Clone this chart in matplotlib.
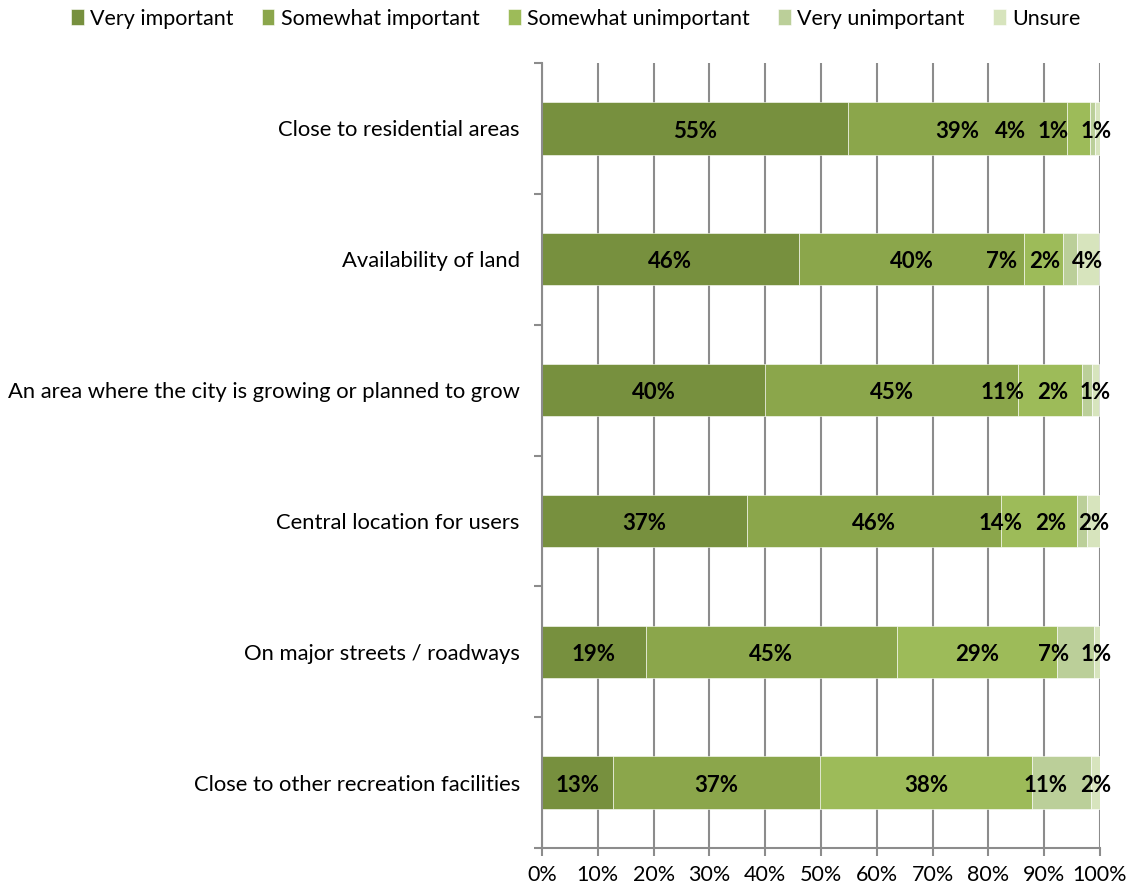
import numpy as np
import matplotlib.pyplot as plt
from matplotlib.ticker import FixedLocator

plt.rcParams['font.family'] = ['Lato', 'DejaVu Sans']

categories = ["Close to residential areas",
              "Availability of land",
              "An area where the city is growing or planned to grow",
              "Central location for users",
              "On major streets / roadways",
              "Close to other recreation facilities"]
series_names = ["Very important", "Somewhat important", "Somewhat unimportant",
                "Very unimportant", "Unsure"]
# shares in percent
very_important = [54.8, 46.0, 40.0, 36.7, 18.6, 12.7]
somewhat_important = [39.2, 40.4, 45.3, 45.6, 45.0, 37.1]
somewhat_unimportant = [4.2, 6.9, 11.4, 13.6, 28.7, 38.0]
very_unimportant = [0.9, 2.5, 1.8, 1.8, 6.6, 10.6]
unsure = [0.9, 4.0, 1.4, 2.3, 1.1, 1.6]
colors = ["#77903e", "#8ba64b", "#9dbb59", "#bbcf99", "#d7e4bd"]

values = np.array([very_important, somewhat_important, somewhat_unimportant,
                   very_unimportant, unsure])

fig = plt.figure(figsize=(11.33, 8.93), dpi=100)
ax = fig.add_axes([0.4784, 0.0504, 0.4925, 0.879])

y = np.arange(len(categories))
left = np.zeros(len(categories))
for name, vals, c in zip(series_names, values, colors):
    ax.barh(y, vals, left=left, height=0.4, color=c, label=name, zorder=2,
            edgecolor="white", linewidth=0.4)
    left += vals

# data labels: centered, small ones pushed left so they don't overlap
def label_width(txt):
    return 2.7 * len(txt)

for i in range(len(categories)):
    starts = np.concatenate([[0], np.cumsum(values[:, i])[:-1]])
    centers = starts + values[:, i] / 2
    texts = ["%d%%" % round(v) for v in values[:, i]]
    xs = centers.copy()
    xs[-1] = min(centers[-1], 99.3)
    for j in range(len(xs) - 2, -1, -1):
        gap = (label_width(texts[j]) + label_width(texts[j + 1])) / 2 + 2.3
        xs[j] = min(centers[j], xs[j + 1] - gap)
    for xx, t in zip(xs, texts):
        ax.text(xx, i + 0.02, t, ha="center", va="center", fontsize=16,
                fontweight="bold", color="black", zorder=3)

ax.set_xlim(0, 100)
ax.set_ylim(len(categories) - 0.5, -0.5)
ax.set_xticks(np.arange(0, 101, 10))
ax.set_xticklabels(["%d%%" % v for v in range(0, 101, 10)], fontsize=15.5)
ax.set_yticks(y)
ax.set_yticklabels(categories, fontsize=15.8)
ax.yaxis.set_minor_locator(FixedLocator(np.arange(-0.5, len(categories), 1)))
ax.tick_params(axis="y", which="major", length=0, pad=16)
ax.tick_params(axis="y", which="minor", length=6, width=1.5, color="#8c8c8c")
ax.tick_params(axis="x", length=6, width=1.5, color="#8c8c8c", pad=6)
ax.xaxis.grid(True, color="#8c8c8c", linewidth=1.5, zorder=0)
ax.set_axisbelow(True)
for s in ["top", "right"]:
    ax.spines[s].set_visible(False)
for s in ["left", "bottom"]:
    ax.spines[s].set_color("#8c8c8c")
    ax.spines[s].set_linewidth(1.5)

fig.legend(loc="upper center", bbox_to_anchor=(0.508, 1.012), ncol=5, frameon=False,
           fontsize=15.5, handlelength=0.6, handleheight=0.8, handletextpad=0.3,
           columnspacing=1.3)

fig.savefig("out.png", dpi=100)
